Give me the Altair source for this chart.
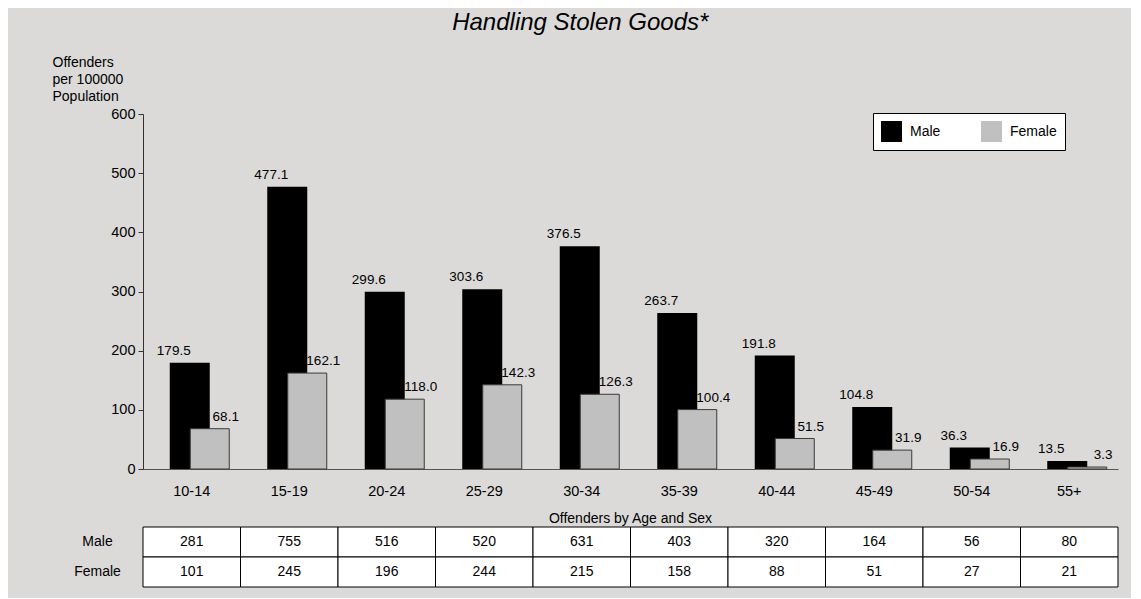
import altair as alt
import pandas as pd

ages = ["10-14", "15-19", "20-24", "25-29", "30-34", "35-39", "40-44", "45-49", "50-54", "55+"]
male_rate = [179.5, 477.1, 299.6, 303.6, 376.5, 263.7, 191.8, 104.8, 36.3, 13.5]
female_rate = [68.1, 162.1, 118.0, 142.3, 126.3, 100.4, 51.5, 31.9, 16.9, 3.3]
male_count = [281, 755, 516, 520, 631, 403, 320, 164, 56, 80]
female_count = [101, 245, 196, 244, 215, 158, 88, 51, 27, 21]
sexes = ["Male", "Female"]

FONT = "Liberation Sans"
BG = "#dbdad9"

rates = pd.DataFrame(
    [{"age": a, "sex": "Male", "rate": v} for a, v in zip(ages, male_rate)]
    + [{"age": a, "sex": "Female", "rate": v} for a, v in zip(ages, female_rate)]
)
counts = pd.DataFrame(
    [{"age": a, "sex": "Male", "count": v} for a, v in zip(ages, male_count)]
    + [{"age": a, "sex": "Female", "count": v} for a, v in zip(ages, female_count)]
)

W = 975
H = 355

xs = alt.X("age:N", sort=ages, scale=alt.Scale(paddingInner=0, paddingOuter=0),
           axis=alt.Axis(title=None, labelAngle=0, ticks=False, labelFontSize=14.5,
                         labelPadding=15, domainColor="#555", labelColor="#000",
                         labelFont=FONT))
ys = alt.Y("rate:Q", scale=alt.Scale(domain=[0, 600], nice=False),
           axis=alt.Axis(values=[0, 100, 200, 300, 400, 500, 600], grid=False,
                         tickSize=5, tickColor="#333", domainColor="#333",
                         labelFontSize=14.5, labelPadding=3, labelColor="#000",
                         labelFont=FONT,
                         title=["Offenders", "per 100000", "Population"],
                         titleAngle=0, titleAlign="left", titleBaseline="top",
                         titleX=-91, titleY=-59, titleFontSize=14,
                         titleFontWeight="normal", titleLineHeight=17,
                         titleFont=FONT, titleColor="#000"))
color = alt.Color("sex:N", scale=alt.Scale(domain=sexes, range=["#000000", "#c0c0c0"]),
                  legend=alt.Legend(title=None, orient="none", legendX=730, legendY=-1,
                                    direction="horizontal", fillColor="white",
                                    strokeColor="#000", padding=8,
                                    symbolType="square", symbolSize=441,
                                    symbolStrokeWidth=0, labelFontSize=14,
                                    labelFont=FONT, labelColor="#000",
                                    labelOffset=8, columnPadding=40))

base = alt.Chart(rates)
male_bars = base.transform_filter(alt.datum.sex == "Male").mark_bar(
    size=40, xOffset=-2).encode(x=xs, y=ys, color=color)
female_bars = base.transform_filter(alt.datum.sex == "Female").mark_bar(
    size=39, xOffset=18, stroke="#3a3a3a", strokeWidth=1).encode(x=xs, y=ys, color=color)
male_text = base.transform_filter(alt.datum.sex == "Male").mark_text(
    dx=-18, dy=-5, baseline="bottom", fontSize=13.5, font=FONT, color="#000").encode(
    x=xs, y=ys, text=alt.Text("rate:Q", format=".1f"))
female_text = base.transform_filter(alt.datum.sex == "Female").mark_text(
    dx=34, dy=-5, baseline="bottom", fontSize=13.5, font=FONT, color="#000").encode(
    x=xs, y=ys, text=alt.Text("rate:Q", format=".1f"))

main = alt.layer(male_bars, female_bars, male_text, female_text).properties(width=W, height=H)

tx = alt.X("age:N", sort=ages, scale=alt.Scale(paddingInner=0, paddingOuter=0), axis=None)
ty = alt.Y("sex:N", sort=sexes, scale=alt.Scale(paddingInner=0, paddingOuter=0),
           axis=alt.Axis(title=None, domain=False, ticks=False, labelAlign="center",
                         labelPadding=46, labelFontSize=14, labelFont=FONT,
                         labelColor="#000"))
tbase = alt.Chart(counts)
cells = tbase.mark_rect(fill="white", stroke="#000", strokeWidth=1).encode(x=tx, y=ty)
ctext = tbase.mark_text(fontSize=14, font=FONT, color="#000").encode(
    x=tx, y=ty, text="count:Q")
table = alt.layer(cells, ctext).properties(
    width=W, height=60,
    title=alt.TitleParams("Offenders by Age and Sex", fontSize=14, fontWeight="normal",
                          font=FONT, color="#000", offset=1))

chart = alt.vconcat(main, table, spacing=13).properties(
    title=alt.TitleParams("Handling Stolen Goods*", fontSize=24, fontStyle="italic",
                          fontWeight="normal", font=FONT, color="#000",
                          anchor="middle", offset=20, dx=-5),
    padding={"left": 44, "top": 3, "right": 12, "bottom": 10},
    background=BG,
).configure_view(stroke=None).configure_concat(spacing=13)

chart.save("out.html", embed_options={"renderer": "svg", "actions": False})
